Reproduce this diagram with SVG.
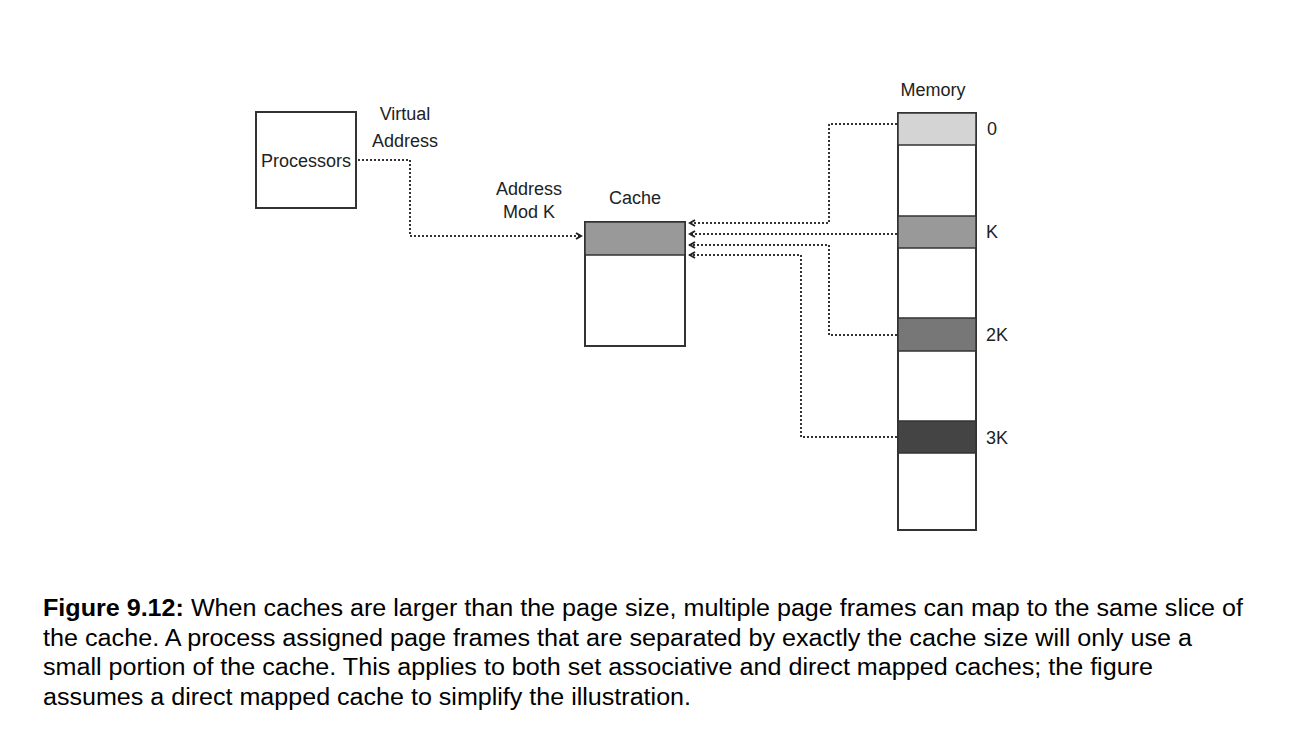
<svg xmlns="http://www.w3.org/2000/svg" width="1290" height="743" viewBox="0 0 1290 743">
<style>
.box{fill:#fff;stroke:#333;stroke-width:2}
.band{stroke:#333;stroke-width:1.5}
.lbl{font-family:"Liberation Sans",Arial,sans-serif;font-size:18px;fill:#222}
.cap{font-family:"Liberation Sans",Arial,sans-serif;font-size:23px;fill:#000}
.dot{fill:none;stroke:#333;stroke-width:2;stroke-dasharray:2 2}
</style>
<defs>
<marker id="ah" viewBox="0 0 8 8" refX="7" refY="4" markerWidth="8" markerHeight="8" markerUnits="userSpaceOnUse" orient="auto">
<path d="M1,1 L6,4 L1,7" fill="none" stroke="#222" stroke-width="2"/>
</marker>
</defs>
<rect width="1290" height="743" fill="#fff"/>
<g id="processors">
<rect class="box" x="256" y="112" width="100" height="96"/>
<text class="lbl" x="306" y="167" text-anchor="middle">Processors</text>
</g>
<g id="cache">
<rect class="box" x="585" y="222" width="100" height="124"/>
<rect class="band" x="585" y="222" width="100" height="33" fill="#999"/>
<text class="lbl" x="635" y="204" text-anchor="middle">Cache</text>
</g>
<g id="memory">
<rect class="box" x="898" y="113" width="78" height="417"/>
<rect class="band" x="898" y="113" width="78" height="32" fill="#d4d4d4"/>
<rect class="band" x="898" y="216" width="78" height="32" fill="#999"/>
<rect class="band" x="898" y="318" width="78" height="33" fill="#777"/>
<rect class="band" x="898" y="421" width="78" height="32" fill="#444"/>
<text class="lbl" x="933" y="96" text-anchor="middle">Memory</text>
<text class="lbl" x="987" y="135">0</text>
<text class="lbl" x="986" y="238">K</text>
<text class="lbl" x="986" y="341">2K</text>
<text class="lbl" x="986" y="444">3K</text>
</g>
<g id="labels">
<text class="lbl" x="405" y="120" text-anchor="middle">Virtual</text>
<text class="lbl" x="405" y="147" text-anchor="middle">Address</text>
<text class="lbl" x="529" y="195" text-anchor="middle">Address</text>
<text class="lbl" x="529" y="218" text-anchor="middle">Mod K</text>
</g>
<g id="connectors">
<path class="dot" d="M358,160 H410 V236 H582" marker-end="url(#ah)"/>
<path class="dot" d="M897,124 H829 V223 H689" marker-end="url(#ah)"/>
<path class="dot" d="M897,234 H689" marker-end="url(#ah)"/>
<path class="dot" d="M897,335 H829 V245 H689" marker-end="url(#ah)"/>
<path class="dot" d="M897,437 H801 V255 H689" marker-end="url(#ah)"/>
</g>
<g id="caption">
<text class="cap" x="43" y="616" textLength="1200" lengthAdjust="spacingAndGlyphs"><tspan font-weight="bold">Figure 9.12:</tspan> When caches are larger than the page size, multiple page frames can map to the same slice of</text>
<text class="cap" x="43" y="646" textLength="1149" lengthAdjust="spacingAndGlyphs">the cache. A process assigned page frames that are separated by exactly the cache size will only use a</text>
<text class="cap" x="43" y="675" textLength="1110" lengthAdjust="spacingAndGlyphs">small portion of the cache. This applies to both set associative and direct mapped caches; the figure</text>
<text class="cap" x="43" y="705" textLength="648" lengthAdjust="spacingAndGlyphs">assumes a direct mapped cache to simplify the illustration.</text>
</g>
</svg>
